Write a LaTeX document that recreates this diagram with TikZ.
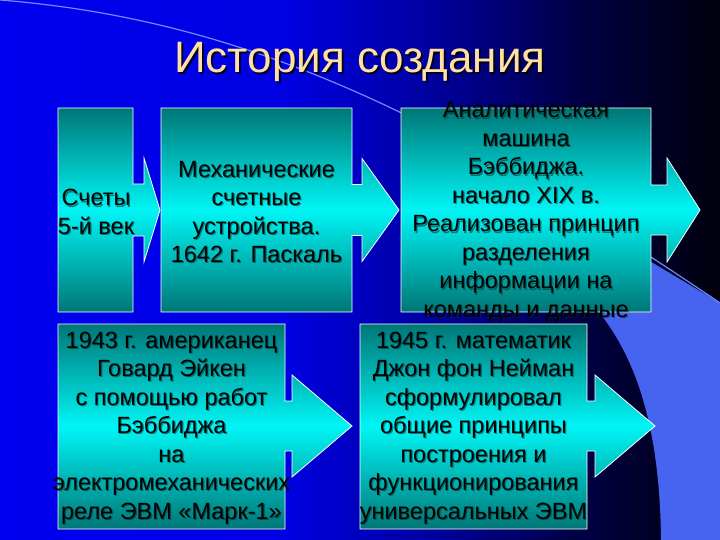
\documentclass[tikz,border=0pt]{standalone}
\usepackage{fontspec}
\setmainfont{Liberation Sans}
\usetikzlibrary{positioning}

\definecolor{panelblue}{RGB}{70,100,240}
\definecolor{arcline}{RGB}{110,140,255}
\definecolor{tealdark}{RGB}{0,118,118}
\definecolor{tealbright}{RGB}{0,245,245}
\definecolor{titlecream}{RGB}{255,224,160}
\definecolor{txtshadow}{RGB}{0,45,45}

\pgfdeclarehorizontalshading{slidebg}{100bp}{rgb(0bp)=(0,0,0.94); rgb(25bp)=(0,0,0.94); rgb(45bp)=(0,0,0.88); rgb(55bp)=(0,0,0.62); rgb(65bp)=(0,0,0.27); rgb(75bp)=(0,0,0.05); rgb(100bp)=(0,0,0.05)}

% box with arrow: left, top, right, bottom, head base, tip, shaft half, head half, centre y
\newcommand{\arrowbox}[9]{%
  \shadedraw[stagebox] ({#1},{#2}) -- ({#3},{#2}) -- ({#3},{#9-#7}) -- ({#5},{#9-#7}) -- ({#5},{#9-#8}) -- ({#6},{#9}) -- ({#5},{#9+#8}) -- ({#5},{#9+#7}) -- ({#3},{#9+#7}) -- ({#3},{#4}) -- ({#1},{#4}) -- cycle;}

\newcommand{\boxlabel}[3]{%
  \node[txt, text=txtshadow, opacity=0.55] (#1-sh) at ([shift={(1.2,1.2)}]#2) {#3};
  \node[txt] (#1) at (#2) {#3};}

\begin{document}
\begin{tikzpicture}[x=1pt, y=-1pt,
  stagebox/.style={draw=white, line width=0.8pt, top color=tealdark, bottom color=tealdark, middle color=tealbright},
  txt/.style={align=center, inner sep=0pt, font=\fontsize{23.5}{28.5}\selectfont},
  titletxt/.style={anchor=base, inner sep=0pt, text=titlecream, font=\fontsize{44}{50}\selectfont}]

  \useasboundingbox (0,0) rectangle (720,540);
  \shade[shading=slidebg] (0,0) rectangle (720,540);
  \fill[panelblue] (520,180) -- (653,263) -- (720,303) -- (720,540) -- (661,540) .. controls (660,450) and (645,375) .. (605,320) .. controls (580,285) and (550,225) .. cycle;
  \draw[arcline, line width=1.2pt] (0,0) .. controls (250,20) and (450,120) .. (720,303);

  \node[titletxt, text=black, opacity=0.8] (title-sh) at (362,75) {История создания};
  \node[titletxt] (title) at (360,73) {История создания};

  \arrowbox{58}{108}{133}{312}{144}{160}{26}{52}{210}
  \arrowbox{161}{108}{352}{312}{362}{399}{25.5}{51.5}{210}
  \arrowbox{401}{108}{651}{312}{667}{700}{25}{52}{210}
  \arrowbox{58}{324}{285}{529}{292}{352}{25}{51}{426}
  \arrowbox{360}{324}{587}{529}{595}{655}{25}{51}{426}

  \coordinate (c1) at (96,212);
  \coordinate (c2) at (256.5,212);
  \coordinate (c3) at (526,212);
  \coordinate (c4) at (171.5,428);
  \coordinate (c5) at (473.5,428);

  \boxlabel{abacus}{c1}{Счеты\\5-й век}
  \boxlabel{pascal}{c2}{Механические\\счетные\\устройства.\\1642 г. Паскаль}
  \boxlabel{babbage}{c3}{Аналитическая\\машина\\Бэббиджа.\\начало XIX в.\\Реализован принцип\\разделения\\информации на\\команды и данные}
  \boxlabel{aiken}{c4}{1943 г. американец\\Говард Эйкен\\с помощью работ\\Бэббиджа\\на\\электромеханических\\реле ЭВМ «Марк-1»}
  \boxlabel{neumann}{c5}{1945 г. математик\\Джон фон Нейман\\сформулировал\\общие принципы\\построения и\\функционирования\\универсальных ЭВМ}
\end{tikzpicture}
\end{document}
